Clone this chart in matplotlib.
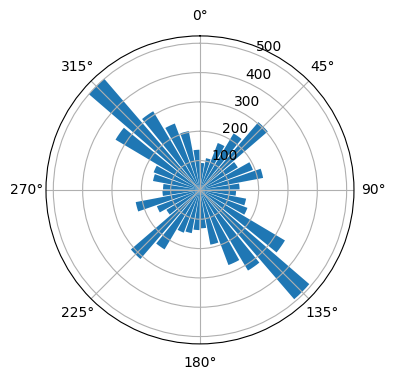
import numpy as np
import matplotlib
matplotlib.use("Agg")
from matplotlib import pyplot as plt

# direction bins (deg, bin centres) and counts
directions = np.arange(5, 360, 10)
counts = [92, 110, 171, 224, 305, 150, 193, 219, 135,
          123, 160, 173, 337, 492, 320, 274, 190, 131,
          137, 150, 156, 236, 311, 133, 157, 223, 128,
          126, 163, 169, 335, 500, 312, 242, 204, 137]

fig = plt.figure(figsize=(3.96, 3.8), dpi=100)
ax = fig.add_axes([0.116, 0.095, 0.778, 0.8105], projection="polar")
ax.set_theta_zero_location("N")
ax.set_theta_direction(-1)

theta = np.deg2rad(directions)
width = np.deg2rad(10) * 0.85
ax.bar(theta, counts, width=width)

fig.savefig("out.png", dpi=100)
